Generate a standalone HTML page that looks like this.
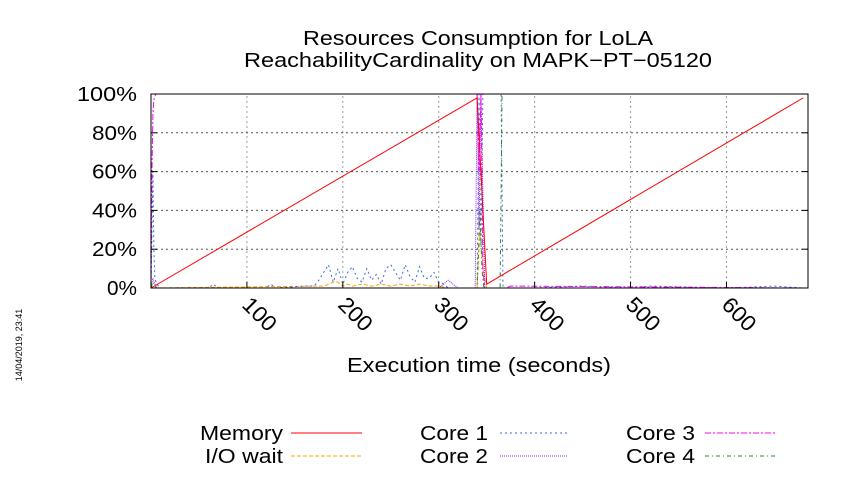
<!DOCTYPE html>
<html><head><meta charset="utf-8"><style>
body{margin:0;background:#fff;width:850px;height:475px;overflow:hidden}
svg{font-family:"Liberation Sans",sans-serif}
</style></head><body>
<svg id="chart" width="850" height="475" xmlns="http://www.w3.org/2000/svg">
<text x="303" y="45" font-size="20" textLength="350" lengthAdjust="spacingAndGlyphs">Resources Consumption for LoLA</text>
<text x="244" y="67" font-size="20" textLength="468" lengthAdjust="spacingAndGlyphs">ReachabilityCardinality on MAPK−PT−05120</text>
<text transform="translate(22,345) rotate(-90)" font-size="9" text-anchor="middle">14/04/2019, 23:41</text>
<text x="347" y="372" font-size="20" textLength="264" lengthAdjust="spacingAndGlyphs">Execution time (seconds)</text>
<g id="grid"></g><g id="series"></g><g id="axes"></g>
<g font-size="20">
<text x="200" y="440" textLength="83" lengthAdjust="spacingAndGlyphs">Memory</text><line x1="291" y1="433" x2="362" y2="433" stroke="#ff0000"/>
<text x="205" y="463" textLength="78" lengthAdjust="spacingAndGlyphs">I/O wait</text><line x1="291" y1="456" x2="362" y2="456" stroke="#ffa500" stroke-dasharray="4,2"/>
<text x="420" y="440" textLength="68" lengthAdjust="spacingAndGlyphs">Core 1</text><line x1="500" y1="433" x2="567" y2="433" stroke="#4169e1" stroke-dasharray="2,3"/>
<text x="420" y="463" textLength="68" lengthAdjust="spacingAndGlyphs">Core 2</text><line x1="500" y1="456" x2="567" y2="456" stroke="#8a2be2" stroke-dasharray="1,1"/>
<text x="626" y="440" textLength="69" lengthAdjust="spacingAndGlyphs">Core 3</text><line x1="705" y1="433" x2="775" y2="433" stroke="#ff00ff" stroke-dasharray="6,2,2,2"/>
<text x="626" y="463" textLength="69" lengthAdjust="spacingAndGlyphs">Core 4</text><line x1="705" y1="456" x2="775" y2="456" stroke="#228b22" stroke-dasharray="4,3,1,3"/>
</g>
</svg>
<script>
const xTicks=[100,200,300,400,500,600];
const yTicks=[0,20,40,60,80,100];
const memT=[0,340,350,680];
const memV=[0,98,2,98];
const ioT=[0,180,185,190,195,200,205,210,220,230,240,250,260,270,280,290,300,310,340,343,346,350,680];
const ioV=[0,1,2,3,3,1,2,1,2,1,2,1,2,1,2,1,1,0,0,30,10,0,0];
const c1T=[0,1,2,3,4,6,8,10,60,65,70,120,125,130,160,170,175,180,185,190,195,200,205,210,215,220,225,230,235,240,245,250,255,260,265,270,275,280,285,290,295,300,305,310,340,342,344,346,348,350,352,355,360,365,367,400,450,500,520,600,650,680];
const c1V=[0,30,60,20,5,2,1,0,0,2,0,0,2,0,1,1,4,8,12,3,10,2,8,11,5,3,10,4,7,2,10,12,8,4,12,6,3,11,5,5,8,3,2,0,0,100,20,100,100,100,100,100,100,100,0,0,1,0,1,0,1,0];
const c2T=[0,2,4,6,300,310,315,320,338,340,342,344,346,348,350,680];
const c2V=[0,5,2,0,0,4,2,0,0,100,30,100,50,0,0,0];
const c3T=[0,1,2,3,5,338,340,342,344,346,348,350,370,375,680];
const c3V=[0,60,90,97,100,100,100,60,100,10,0,0,0,1,0];
const c4T=[0,2,4,6,340,343,345,347,349,364,366,680];
const c4V=[0,3,1,0,0,40,10,0,0,0,100,100];
const X0=151,X1=808,Y0=288,Y1=94,XMAX=685;
const xs=t=>X0+(X1-X0)*t/XMAX, ys=v=>Y0-(Y0-Y1)*v/100;
const NS="http://www.w3.org/2000/svg";
function mk(p,tag,a){const e=document.createElementNS(NS,tag);for(const k in a)e.setAttribute(k,a[k]);p.appendChild(e);return e;}
const grid=document.getElementById('grid'),axes=document.getElementById('axes'),ser=document.getElementById('series');
xTicks.forEach(t=>{const l=mk(grid,'line',{x1:xs(t),x2:xs(t),y1:Y0,y2:Y1,stroke:'#999','stroke-dasharray':'2,3'});


const tk=mk(axes,'line',{x1:xs(t),x2:xs(t),y1:Y0,y2:Y0-6,stroke:'#000'});


const tx=mk(axes,'text',{x:0,y:0,'font-size':22,textLength:38,lengthAdjust:'spacingAndGlyphs',transform:`translate(${xs(t)-6},${Y0+18}) rotate(45)`});
tx.textContent=t;

});
yTicks.forEach(v=>{if(v>0&&v<100){const l=mk(grid,'line',{x1:X0,x2:X1,y1:ys(v),y2:ys(v),stroke:'#555','stroke-dasharray':'2,3'});

}
const tk=mk(axes,'line',{x1:X0,x2:X0+6,y1:ys(v),y2:ys(v),stroke:'#000'});


const tk2=mk(axes,'line',{x1:X1,x2:X1-6,y1:ys(v),y2:ys(v),stroke:'#000'});


const s=v+'%';
const tx=mk(axes,'text',{x:X0-14,y:ys(v)+7,'font-size':20,'text-anchor':'end',textLength:s.length*15,lengthAdjust:'spacingAndGlyphs'});
tx.textContent=s;

});
const fr=mk(axes,'rect',{x:X0,y:Y1,width:X1-X0,height:Y0-Y1,fill:'none',stroke:'#000'});


function line(T,V,c,d,n){const p=mk(ser,'polyline',{points:T.map((t,i)=>xs(t)+','+ys(V[i])).join(' '),fill:'none',stroke:c,'stroke-dasharray':d});

}
line(ioT,ioV,'#ffa500','4,2','io-wait-line');
line(c1T,c1V,'#4169e1','2,3','core1-line');
line(c2T,c2V,'#8a2be2','1,1','core2-line');
line(c3T,c3V,'#ff00ff','6,2,2,2','core3-line');
line(c4T,c4V,'#228b22','4,3,1,3','core4-line');
line(memT,memV,'#ff0000','none','memory-line');
</script>
</body></html>
